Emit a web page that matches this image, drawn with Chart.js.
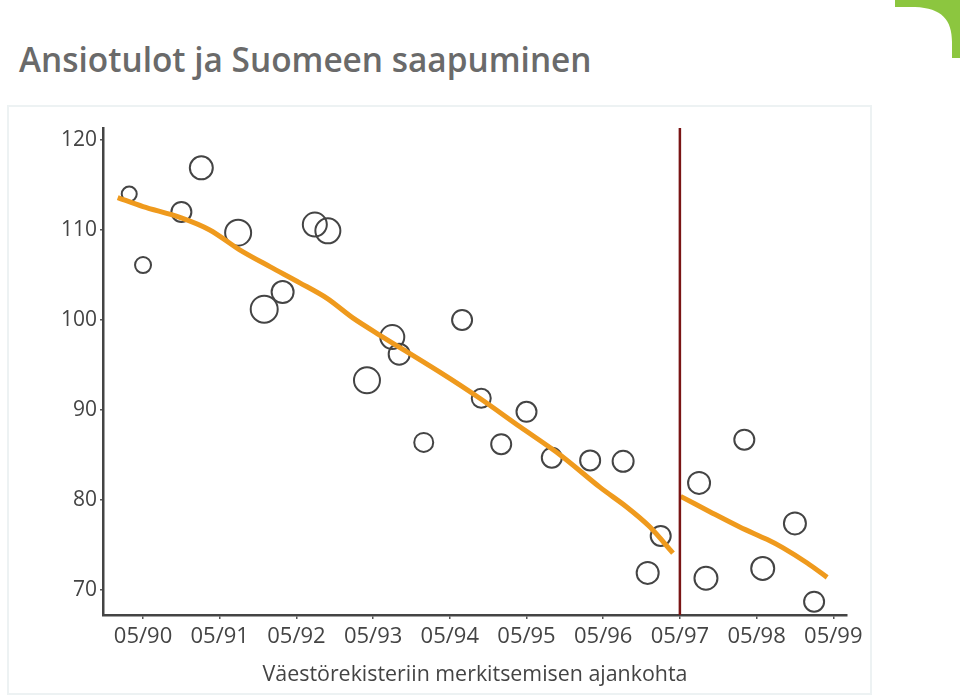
<!DOCTYPE html>
<html>
<head>
<meta charset="utf-8">
<script src="https://cdn.jsdelivr.net/npm/chart.js@4"></script>
<style>
  body { margin: 0; background: #fff; width: 960px; height: 695px; overflow: hidden; position: relative; }
  #title { position: absolute; left: 19px; top: 42px; font: 600 33.4px/34px "Open Sans", sans-serif; color: #6a6a6a; white-space: nowrap; }
  #panel { position: absolute; left: 7px; top: 105px; width: 861px; height: 586px; border: 2px solid #edf2f3; }
  #deco { position: absolute; left: 880px; top: 0; }
  #wrap { position: absolute; left: 0; top: 0; width: 960px; height: 695px; }
</style>
</head>
<body>
<div id="title">Ansiotulot ja Suomeen saapuminen</div>
<div id="panel"></div>
<svg id="deco" width="80" height="80">
  <path d="M15 0 H80 V58 H72 V42 C72 20 62 8 35 7 H15 Z" fill="#8cc63f"/>
</svg>
<div id="wrap"><canvas id="chart_1"></canvas></div>
<script>
// x = vuosi (05/yy tick = yy), y = ansiotulot-indeksi
const xTicks = [1990, 1991, 1992, 1993, 1994, 1995, 1996, 1997, 1998, 1999];
const xTickLabels = ["05/90", "05/91", "05/92", "05/93", "05/94", "05/95", "05/96", "05/97", "05/98", "05/99"];
const yTicks = [70, 80, 90, 100, 110, 120];

const pointX = [1989.82, 1990.00, 1990.50, 1990.76, 1991.24, 1991.58, 1991.82, 1992.24, 1992.41, 1992.92,
  1993.25, 1993.34, 1993.66, 1994.16, 1994.41, 1994.67, 1995.00, 1995.33, 1995.83, 1996.26,
  1996.75, 1996.58, 1997.25, 1997.34, 1997.84, 1998.08, 1998.50, 1998.75];
const pointY = [114.0, 106.1, 112.0, 116.9, 109.7, 101.2, 103.1, 110.6, 109.9, 93.3,
  98.1, 96.2, 86.4, 100.0, 91.3, 86.2, 89.8, 84.7, 84.4, 84.3,
  76.0, 71.9, 81.9, 71.3, 86.7, 72.4, 77.4, 68.7];
const pointSize = [7.5, 8, 10, 11.5, 13, 13.5, 11, 12, 12.5, 13,
  12, 10.5, 9.5, 10, 9.5, 10, 10, 10, 10, 10.5,
  10, 11, 11, 11.5, 10, 11.5, 11, 10];

const trend1X = [1989.67, 1990.00, 1990.48, 1990.87, 1991.26, 1991.66, 1992.05, 1992.40, 1992.74, 1993.09,
  1993.87, 1994.39, 1994.92, 1995.44, 1995.96, 1996.31, 1996.61, 1996.91];
const trend1Y = [113.6, 112.6, 111.4, 110.0, 107.8, 105.9, 104.1, 102.4, 100.2, 98.3,
  94.2, 91.3, 88.1, 85.0, 81.4, 79.2, 77.0, 74.1];
const trend2X = [1997.01, 1997.39, 1997.78, 1998.14, 1998.34, 1998.66, 1998.92];
const trend2Y = [80.4, 78.7, 77.0, 75.6, 74.7, 73.0, 71.4];

const cutX = 1997;
const yMin = 67.22, yMax = 121.33;
const xMin = 1989.478, xMax = 1999.179;

const ct = document.getElementById("chart_1");

const config = {
  type: "bubble",
  data: {
    datasets: [
      {
        type: "line",
        data: [{ x: cutX, y: yMin }, { x: cutX, y: yMax }],
        borderColor: "#7a1515",
        borderWidth: 2.5,
        pointRadius: 0,
      },
      {
        type: "line",
        data: trend1X.map((x, i) => ({ x: x, y: trend1Y[i] })),
        borderColor: "#ef9a1d",
        borderWidth: 5,
        pointRadius: 0,
        tension: 0.3,
      },
      {
        type: "line",
        data: trend2X.map((x, i) => ({ x: x, y: trend2Y[i] })),
        borderColor: "#ef9a1d",
        borderWidth: 5,
        pointRadius: 0,
        tension: 0.3,
      },
      {
        data: pointX.map((x, i) => ({ x: x, y: pointY[i], r: pointSize[i] })),
        borderColor: "#444",
        borderWidth: 2,
        backgroundColor: "rgba(0,0,0,0)",
      },
    ],
  },
  options: {
    responsive: false,
    animation: false,
    layout: { padding: { top: 128, right: 113, left: 0, bottom: 0 } },
    plugins: {
      legend: { display: false },
      tooltip: { enabled: false },
    },
    scales: {
      x: {
        type: "linear",
        min: xMin,
        max: xMax,
        afterBuildTicks: (s) => { s.ticks = xTicks.map((v) => ({ value: v })); },
        afterFit: (s) => { s.height = 80; },
        grid: { drawOnChartArea: false, tickLength: 4, color: "#555", lineWidth: 1.5 },
        border: { color: "#444", width: 2.5 },
        ticks: {
          padding: 5,
          color: "#444",
          font: { family: "Open Sans", size: 22 },
          callback: (v) => xTickLabels[xTicks.indexOf(v)],
        },
        title: {
          display: true,
          text: "Väestörekisteriin merkitsemisen ajankohta",
          color: "#444",
          font: { family: "Open Sans", size: 21.4 },
          padding: { top: 0, bottom: 7 },
        },
      },
      y: {
        min: yMin,
        max: yMax,
        afterBuildTicks: (s) => { s.ticks = yTicks.map((v) => ({ value: v })); },
        afterFit: (s) => { s.width = 103; },
        grid: { drawOnChartArea: false, tickLength: 3, color: "#555", lineWidth: 1.5 },
        border: { color: "#444", width: 2.5 },
        ticks: {
          padding: 3,
          color: "#444",
          font: { family: "Open Sans", size: 21 },
        },
      },
    },
  },
};

ct.width = 960;
ct.height = 695;
new Chart(ct, config);
</script>
</body>
</html>
